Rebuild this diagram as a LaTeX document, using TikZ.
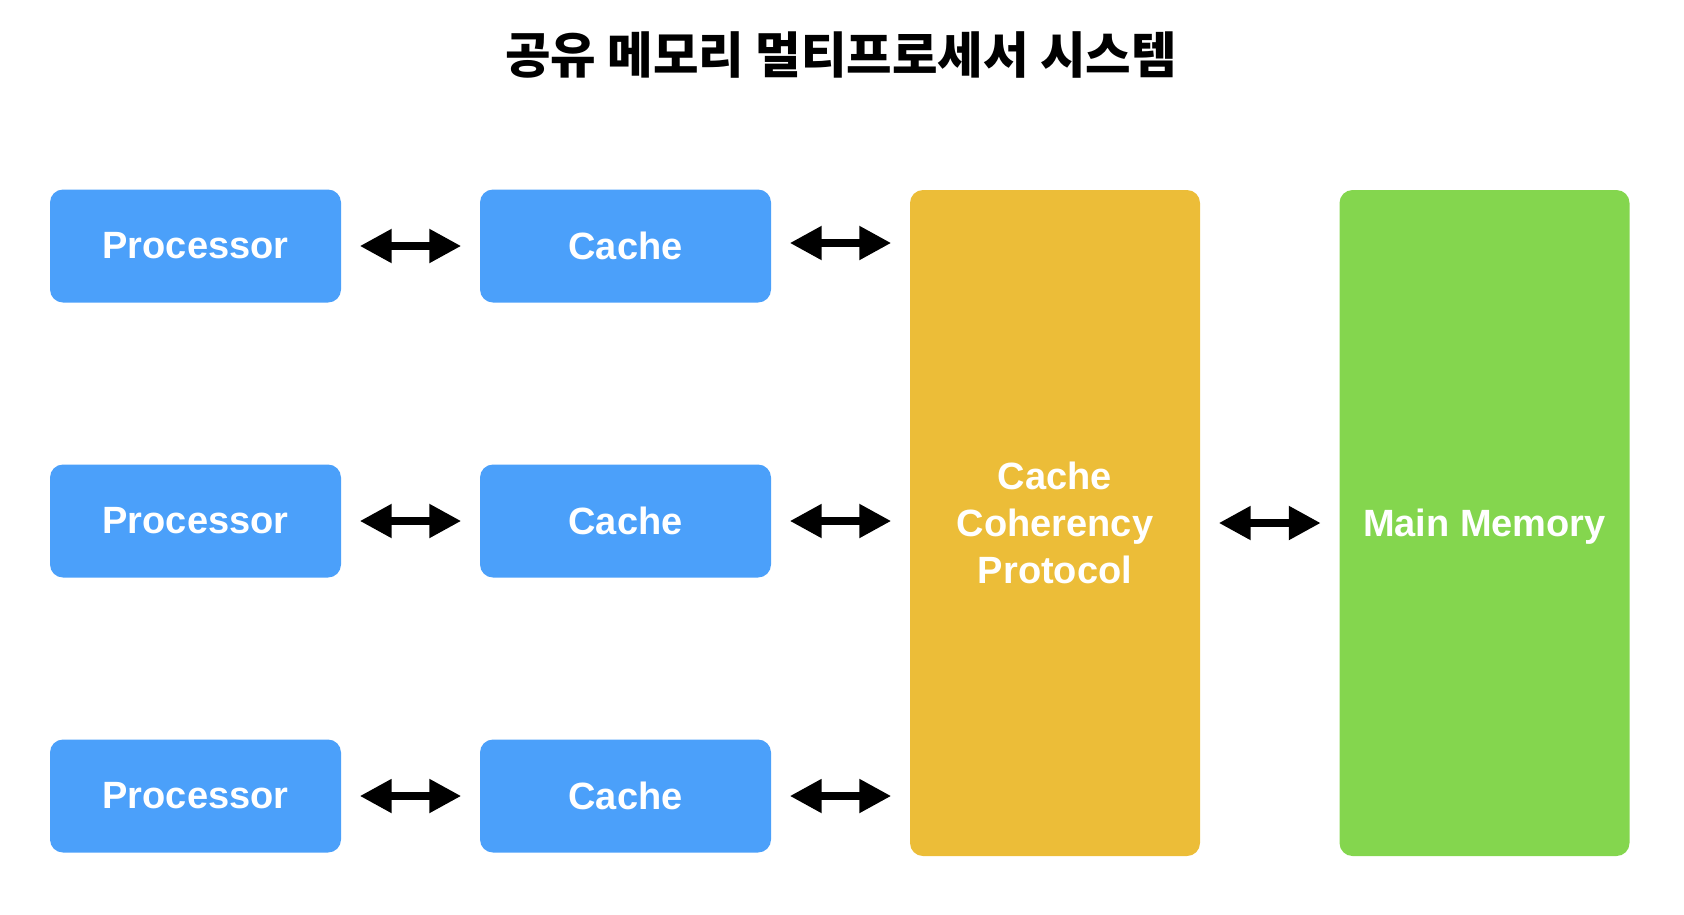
\documentclass[tikz,border=0pt]{standalone}
\usepackage{fontspec}
\setmainfont{Liberation Sans}
\newfontfamily\krfont{Noto Sans CJK KR}
\usetikzlibrary{arrows.meta}
\definecolor{boxblue}{RGB}{75,160,250}
\definecolor{boxyellow}{RGB}{236,189,56}
\definecolor{boxgreen}{RGB}{132,214,78}
\tikzset{
  unit/.style={rectangle, rounded corners=13pt, inner sep=0pt, text=white,
    font=\fontsize{38}{47}\selectfont\bfseries, align=center},
  procbox/.style={unit, fill=boxblue, minimum width=291pt, minimum height=113pt},
  tallbox/.style={unit, minimum width=290pt, minimum height=666pt},
  dblarrow/.style={line width=8pt, {Triangle[length=32pt,width=32pt]}-{Triangle[length=32pt,width=32pt]}, shorten <=18.5pt, shorten >=18.5pt},
  titletext/.style={font=\krfont\bfseries\fontsize{49.5}{54}\selectfont, text=black}
}
\begin{document}
\begin{tikzpicture}[x=1pt,y=-1pt]
\useasboundingbox (0,0) rectangle (1684,914);
\node[titletext] (title) at (841,55) {공유 메모리 멀티프로세서 시스템};
% processors
\node[procbox] (p1) at (195.5,246) {Processor};
\node[procbox] (p2) at (195.5,521) {Processor};
\node[procbox] (p3) at (195.5,796) {Processor};
% caches
\node[procbox] (c1) at (625.5,246) {Cache};
\node[procbox] (c2) at (625.5,521) {Cache};
\node[procbox] (c3) at (625.5,796) {Cache};
% coherency and memory
\node[tallbox, fill=boxyellow] (coh) at (1055,523) {Cache\\Coherency\\Protocol};
\node[tallbox, fill=boxgreen, text depth=0pt] (mem) at (1484.5,523) {Main Memory};
% arrows
\draw[dblarrow] (p1.east) -- (c1.west);
\draw[dblarrow] (p2.east) -- (c2.west);
\draw[dblarrow] (p3.east) -- (c3.west);
\coordinate (h1) at ([yshift=3pt]c1.east -| coh.west);
\coordinate (h2) at (c2.east -| coh.west);
\coordinate (h3) at (c3.east -| coh.west);
\draw[dblarrow] ([yshift=3pt]c1.east) -- (h1);
\draw[dblarrow] (c2.east) -- (h2);
\draw[dblarrow] (c3.east) -- (h3);
\draw[dblarrow] (coh.east) -- (mem.west);
\end{tikzpicture}
\end{document}
